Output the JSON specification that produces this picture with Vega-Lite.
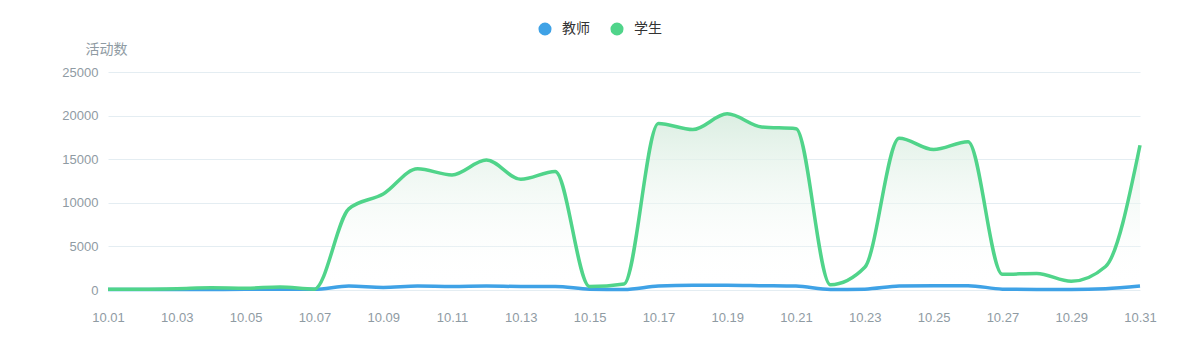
{
  "$schema": "https://vega.github.io/schema/vega-lite/v6.json",
  "width": 1032,
  "height": 218,
  "autosize": {"type": "none"},
  "padding": {"left": 108, "top": 72, "right": 60, "bottom": 70},
  "background": "white",
  "config": {
    "view": {"stroke": null},
    "font": "Liberation Sans, Noto Sans CJK SC, sans-serif"
  },
  "data": {
    "values": [
      {"date": "10.01", "series": "教师", "value": 50},
      {"date": "10.02", "series": "教师", "value": 50},
      {"date": "10.03", "series": "教师", "value": 60},
      {"date": "10.04", "series": "教师", "value": 60},
      {"date": "10.05", "series": "教师", "value": 80},
      {"date": "10.06", "series": "教师", "value": 100},
      {"date": "10.07", "series": "教师", "value": 80},
      {"date": "10.08", "series": "教师", "value": 450},
      {"date": "10.09", "series": "教师", "value": 300},
      {"date": "10.10", "series": "教师", "value": 450},
      {"date": "10.11", "series": "教师", "value": 400},
      {"date": "10.12", "series": "教师", "value": 450},
      {"date": "10.13", "series": "教师", "value": 400},
      {"date": "10.14", "series": "教师", "value": 400},
      {"date": "10.15", "series": "教师", "value": 100},
      {"date": "10.16", "series": "教师", "value": 60},
      {"date": "10.17", "series": "教师", "value": 450},
      {"date": "10.18", "series": "教师", "value": 550},
      {"date": "10.19", "series": "教师", "value": 550},
      {"date": "10.20", "series": "教师", "value": 500},
      {"date": "10.21", "series": "教师", "value": 450},
      {"date": "10.22", "series": "教师", "value": 60},
      {"date": "10.23", "series": "教师", "value": 100},
      {"date": "10.24", "series": "教师", "value": 450},
      {"date": "10.25", "series": "教师", "value": 500},
      {"date": "10.26", "series": "教师", "value": 500},
      {"date": "10.27", "series": "教师", "value": 100},
      {"date": "10.28", "series": "教师", "value": 60},
      {"date": "10.29", "series": "教师", "value": 60},
      {"date": "10.30", "series": "教师", "value": 150},
      {"date": "10.31", "series": "教师", "value": 450},
      {"date": "10.01", "series": "学生", "value": 100},
      {"date": "10.02", "series": "学生", "value": 100},
      {"date": "10.03", "series": "学生", "value": 150},
      {"date": "10.04", "series": "学生", "value": 250},
      {"date": "10.05", "series": "学生", "value": 200},
      {"date": "10.06", "series": "学生", "value": 350},
      {"date": "10.07", "series": "学生", "value": 100},
      {"date": "10.08", "series": "学生", "value": 9300},
      {"date": "10.09", "series": "学生", "value": 11000},
      {"date": "10.10", "series": "学生", "value": 13900},
      {"date": "10.11", "series": "学生", "value": 13200},
      {"date": "10.12", "series": "学生", "value": 14900},
      {"date": "10.13", "series": "学生", "value": 12700},
      {"date": "10.14", "series": "学生", "value": 13600},
      {"date": "10.15", "series": "学生", "value": 400},
      {"date": "10.16", "series": "学生", "value": 700},
      {"date": "10.17", "series": "学生", "value": 19100},
      {"date": "10.18", "series": "学生", "value": 18400},
      {"date": "10.19", "series": "学生", "value": 20200},
      {"date": "10.20", "series": "学生", "value": 18700},
      {"date": "10.21", "series": "学生", "value": 18500},
      {"date": "10.22", "series": "学生", "value": 600},
      {"date": "10.23", "series": "学生", "value": 2600},
      {"date": "10.24", "series": "学生", "value": 17400},
      {"date": "10.25", "series": "学生", "value": 16100},
      {"date": "10.26", "series": "学生", "value": 17000},
      {"date": "10.27", "series": "学生", "value": 1800},
      {"date": "10.28", "series": "学生", "value": 1900},
      {"date": "10.29", "series": "学生", "value": 1000},
      {"date": "10.30", "series": "学生", "value": 2700},
      {"date": "10.31", "series": "学生", "value": 16600}
    ]
  },
  "encoding": {
    "x": {
      "field": "date",
      "type": "ordinal",
      "sort": null,
      "scale": {"type": "point", "padding": 0},
      "axis": {
        "title": null,
        "labelAngle": 0,
        "values": ["10.01","10.03","10.05","10.07","10.09","10.11","10.13","10.15","10.17","10.19","10.21","10.23","10.25","10.27","10.29","10.31"],
        "domain": false,
        "ticks": false,
        "grid": false,
        "labelPadding": 21,
        "labelColor": "#8f9ba3",
        "labelFontSize": 13,
        "labelFont": "Liberation Sans"
      }
    },
    "y": {
      "field": "value",
      "type": "quantitative",
      "scale": {"domain": [0, 25000], "nice": false},
      "axis": {
        "title": "活动数",
        "titleAngle": 0,
        "titleAlign": "center",
        "titleBaseline": "middle",
        "titleX": -2,
        "titleY": -23,
        "titleColor": "#8f9ba3",
        "titleFontSize": 14,
        "titleFontWeight": "normal",
        "titleFont": "Noto Sans CJK SC",
        "values": [0, 5000, 10000, 15000, 20000, 25000],
        "format": "d",
        "domain": false,
        "ticks": false,
        "labelPadding": 10,
        "labelColor": "#8f9ba3",
        "labelFontSize": 13,
        "labelFont": "Liberation Sans",
        "gridColor": "#e4edf2",
        "gridWidth": 1
      }
    }
  },
  "layer": [
    {
      "transform": [{"filter": "datum.series === '学生'"}],
      "mark": {
        "type": "area",
        "interpolate": "monotone",
        "fill": {
          "gradient": "linear",
          "x1": 0, "y1": 1, "x2": 0, "y2": 0,
          "stops": [
            {"offset": 0, "color": "rgba(255,255,255,0)"},
            {"offset": 1, "color": "#dbeee2"}
          ]
        }
      }
    },
    {
      "mark": {"type": "line", "interpolate": "monotone", "strokeWidth": 3.5},
      "encoding": {
        "color": {
          "field": "series",
          "type": "nominal",
          "scale": {"domain": ["教师", "学生"], "range": ["#3fa2e6", "#50d48a"]},
          "legend": {
            "title": null,
            "orient": "none",
            "direction": "horizontal",
            "legendX": 430,
            "legendY": -50,
            "symbolType": "circle",
            "symbolSize": 170,
            "labelFontSize": 14,
            "labelColor": "#333333",
            "labelFont": "Noto Sans CJK SC",
            "labelOffset": 10,
            "columnPadding": 20,
            "encode": {
              "symbols": {
                "update": {
                  "fill": {"scale": "color", "field": "value"},
                  "strokeWidth": {"value": 0},
                  "opacity": {"value": 1}
                }
              }
            }
          }
        }
      }
    }
  ]
}
